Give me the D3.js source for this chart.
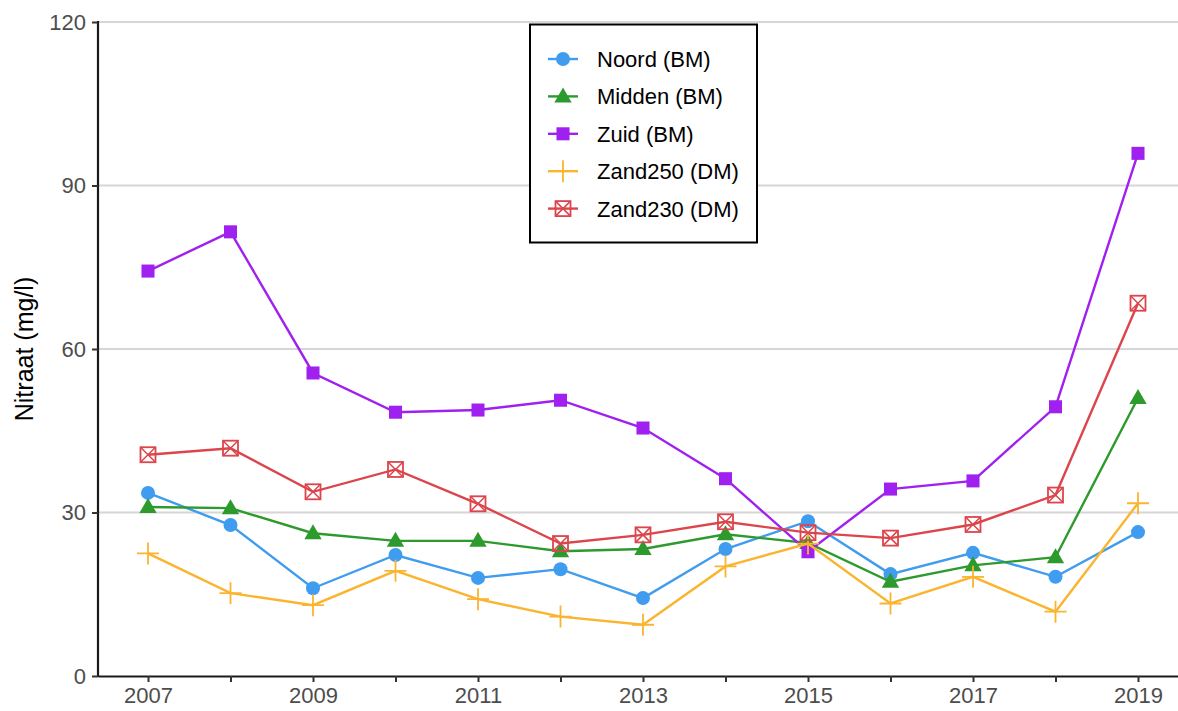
<!DOCTYPE html>
<html>
<head>
<meta charset="utf-8">
<script src="https://cdn.jsdelivr.net/npm/d3@7"></script>
<style>
  body { margin: 0; background: #fff; }
  text { font-family: "Liberation Sans", Arial, sans-serif; }
</style>
</head>
<body>
<div class="chart"></div>
<script>
// Nitraat chart
var years = [2007, 2008, 2009, 2010, 2011, 2012, 2013, 2014, 2015, 2016, 2017, 2018, 2019];
var noord = [33.6, 27.7, 16.1, 22.2, 18.0, 19.6, 14.3, 23.3, 28.4, 18.7, 22.6, 18.2, 26.4];
var midden = [31.0, 30.8, 26.2, 24.8, 24.8, 22.9, 23.3, 26.0, 24.4, 17.3, 20.3, 21.8, 51.0];
var zuid = [74.3, 81.5, 55.6, 48.4, 48.8, 50.6, 45.5, 36.2, 22.8, 34.3, 35.8, 49.4, 95.9];
var zand250 = [22.5, 15.2, 13.0, 19.3, 14.1, 10.9, 9.4, 20.1, 24.3, 13.3, 18.2, 11.8, 31.7];
var zand230 = [40.6, 41.8, 33.8, 37.9, 31.6, 24.3, 25.9, 28.3, 26.3, 25.3, 27.8, 33.2, 68.4];
var seriesNames = ["Noord (BM)", "Midden (BM)", "Zuid (BM)", "Zand250 (DM)", "Zand230 (DM)"];
var yTicks = [0, 30, 60, 90, 120];

var series = [
  { name: seriesNames[0], values: noord, color: "#3f9cee", shape: "circle" },
  { name: seriesNames[1], values: midden, color: "#2c9a2c", shape: "triangle" },
  { name: seriesNames[2], values: zuid, color: "#a020f0", shape: "square" },
  { name: seriesNames[3], values: zand250, color: "#fbb42e", shape: "plus" },
  { name: seriesNames[4], values: zand230, color: "#dc454c", shape: "boxx" }
];

var svgWidth = 1178;
var svgHeight = 711;
var plotLeft = 98, plotRight = 1178, plotTop = 22, plotBottom = 676;

var svg = d3.select(".chart")
  .append("svg")
  .attr("width", svgWidth)
  .attr("height", svgHeight);

var x = d3.scaleLinear()
  .domain([2007 - 50 / 82.5, 2019 + 40 / 82.5])
  .range([plotLeft, plotRight]);
var y = d3.scaleLinear()
  .domain([0, 120])
  .range([plotBottom, plotTop]);

// gridlines
svg.append("g")
  .selectAll("line")
  .data(yTicks.filter(function(d) { return d > 0; }))
  .enter().append("line")
  .attr("x1", plotLeft)
  .attr("x2", plotRight)
  .attr("y1", function(d) { return y(d); })
  .attr("y2", function(d) { return y(d); })
  .attr("stroke", "#d6d6d6")
  .attr("stroke-width", 2);

// axes
var xAxis = d3.axisBottom(x)
  .tickValues(years)
  .tickSize(6)
  .tickSizeOuter(0)
  .tickPadding(5)
  .tickFormat(function(d) { return d % 2 === 1 ? d : ""; });
var yAxis = d3.axisLeft(y)
  .tickValues(yTicks)
  .tickSize(6)
  .tickSizeOuter(0)
  .tickPadding(6);

var gx = svg.append("g")
  .attr("transform", "translate(0," + plotBottom + ")")
  .call(xAxis);
var gy = svg.append("g")
  .attr("transform", "translate(" + plotLeft + ",0)")
  .call(yAxis);

[gx, gy].forEach(function(g) {
  g.attr("font-size", null).attr("font-family", null);
  g.select(".domain").attr("stroke", "#1a1a1a").attr("stroke-width", 2.2);
  g.selectAll(".tick line").attr("stroke", "#333").attr("stroke-width", 2);
  g.selectAll(".tick text")
    .attr("fill", "#4d4d4d")
    .style("font-size", "22px")
    .style("font-family", "Liberation Sans, Arial, sans-serif");
});
gy.select(".domain").attr("d", "M0," + (plotTop - 1) + "V" + (plotBottom + 1));

// y axis title
svg.append("text")
  .attr("transform", "translate(33," + ((plotTop + plotBottom) / 2) + ") rotate(-90)")
  .attr("text-anchor", "middle")
  .style("font-size", "25px")
  .attr("fill", "#000")
  .text("Nitraat (mg/l)");

// marker drawing
function drawMarker(g, shape, color) {
  if (shape === "circle") {
    g.append("circle").attr("r", 7).attr("fill", color);
  } else if (shape === "triangle") {
    g.append("path").attr("d", d3.symbol(d3.symbolTriangle, 130)()).attr("fill", color)
      .attr("transform", "translate(0,1)");
  } else if (shape === "square") {
    g.append("path").attr("d", d3.symbol(d3.symbolSquare, 170)()).attr("fill", color);
  } else if (shape === "plus") {
    g.append("path").attr("d", "M-11,0H11M0,-11V11")
      .attr("stroke", color).attr("stroke-width", 1.8).attr("fill", "none");
  } else if (shape === "boxx") {
    g.append("rect").attr("x", -7.5).attr("y", -7.5).attr("width", 15).attr("height", 15)
      .attr("stroke", color).attr("stroke-width", 1.8).attr("fill", "none");
    g.append("path").attr("d", "M-7.5,-7.5L7.5,7.5M-7.5,7.5L7.5,-7.5")
      .attr("stroke", color).attr("stroke-width", 1.5).attr("fill", "none");
  }
}

var line = d3.line()
  .x(function(d, i) { return x(years[i]); })
  .y(function(d) { return y(d); });

series.forEach(function(s) {
  svg.append("path")
    .datum(s.values)
    .attr("d", line)
    .attr("fill", "none")
    .attr("stroke", s.color)
    .attr("stroke-width", 2.4);
  s.values.forEach(function(v, i) {
    var g = svg.append("g")
      .attr("transform", "translate(" + x(years[i]) + "," + y(v) + ")");
    drawMarker(g, s.shape, s.color);
  });
});

// legend
var legend = svg.append("g");
legend.append("rect")
  .attr("x", 530)
  .attr("y", 24.5)
  .attr("width", 227)
  .attr("height", 218)
  .attr("fill", "#fff")
  .attr("stroke", "#000")
  .attr("stroke-width", 2);
series.forEach(function(s, i) {
  var ly = 59 + i * 37.4;
  var item = legend.append("g").attr("transform", "translate(0," + ly + ")");
  item.append("line")
    .attr("x1", 548).attr("x2", 578)
    .attr("stroke", s.color).attr("stroke-width", 2.4);
  var m = item.append("g").attr("transform", "translate(563,0)");
  drawMarker(m, s.shape, s.color);
  item.append("text")
    .attr("x", 597)
    .attr("dy", "0.36em")
    .style("font-size", "22px")
    .attr("fill", "#000")
    .text(s.name);
});
</script>
</body>
</html>
